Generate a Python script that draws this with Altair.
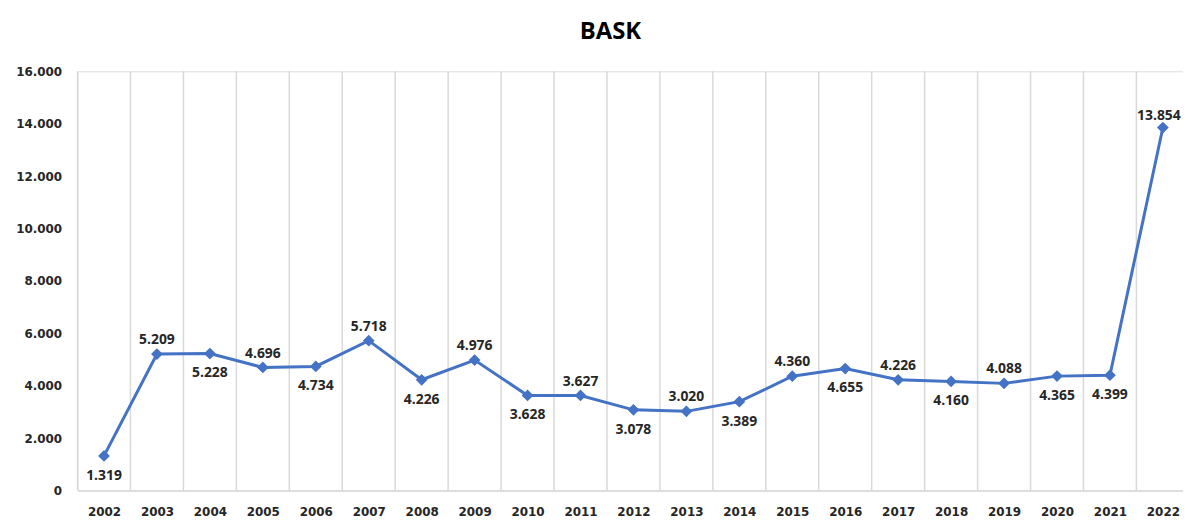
import altair as alt
import pandas as pd

years = list(range(2002, 2023))
values = [1319, 5209, 5228, 4696, 4734, 5718, 4226, 4976, 3628, 3627, 3078,
          3020, 3389, 4360, 4655, 4226, 4160, 4088, 4365, 4399, 13854]
label_side = ["below", "above", "below", "above", "below", "above", "below",
              "above", "below", "above", "below", "above", "below", "above",
              "below", "above", "below", "above", "below", "below", "edge"]

df = pd.DataFrame({"year": years, "value": values, "side": label_side})

BLUE = "#4472C4"
GRID = "#d9d9d9"
H = 422

xscale = alt.Scale(domain=[2001.5, 2022.38], nice=False, zero=False)
xaxis = alt.Axis(values=years, format="d", labelAngle=0, labelFont="DejaVu Sans",
                 labelFontSize=12, labelFontWeight="bold", labelColor="#262626",
                 labelPadding=16, ticks=False, grid=False,
                 domainColor=GRID, domainWidth=1.5, labelOverlap=False)
yaxis = alt.Axis(values=list(range(0, 16001, 2000)), grid=False, domain=False,
                 ticks=False, labelFont="DejaVu Sans", labelFontSize=12,
                 labelFontWeight="bold", labelColor="#262626", labelPadding=16,
                 labelExpr="replace(format(datum.value, ','), ',', '.')")
yscale = alt.Scale(domain=[0, 16000], nice=False)

grid = alt.Chart(df).transform_calculate(g="datum.year - 0.5").mark_rule(
    color=GRID, strokeWidth=1.5
).encode(x=alt.X("g:Q", title=None, scale=xscale, axis=xaxis),
         y=alt.value(0), y2=alt.value(H))

base = alt.Chart(df).encode(
    x=alt.X("year:Q", title=None, scale=xscale, axis=xaxis),
    y=alt.Y("value:Q", title=None, scale=yscale, axis=yaxis),
)

line = base.mark_line(color=BLUE, strokeWidth=3)
pts = base.mark_point(shape="diamond", filled=True, color=BLUE, size=140, opacity=1)

lab = base.transform_calculate(
    lbl="replace(format(datum.value, ','), ',', '.')"
)
txt_kw = dict(font="Open Sans", fontSize=14, fontWeight="bold", color="#262626",
              baseline="middle", align="center")
above = lab.transform_filter("datum.side == 'above'").mark_text(dy=-14, **txt_kw).encode(text="lbl:N")
below = lab.transform_filter("datum.side == 'below'").mark_text(dy=20, **txt_kw).encode(text="lbl:N")
edge = lab.transform_filter("datum.side == 'edge'").mark_text(dy=-12, dx=-4, **txt_kw).encode(text="lbl:N")

chart = alt.layer(grid, line, pts, above, below, edge).properties(
    width=1113, height=H,
    title=alt.TitleParams("BASK", font="Open Sans", fontSize=24, fontWeight="bold",
                          color="#000000", anchor="middle", dx=-20, offset=22),
    autosize=alt.AutoSizeParams(type="none"),
    padding={"left": 70, "top": 62, "right": 0, "bottom": 30},
).configure_view(stroke=None).configure(background="white")

chart.save("out.html", embed_options={"renderer": "svg", "actions": False})
